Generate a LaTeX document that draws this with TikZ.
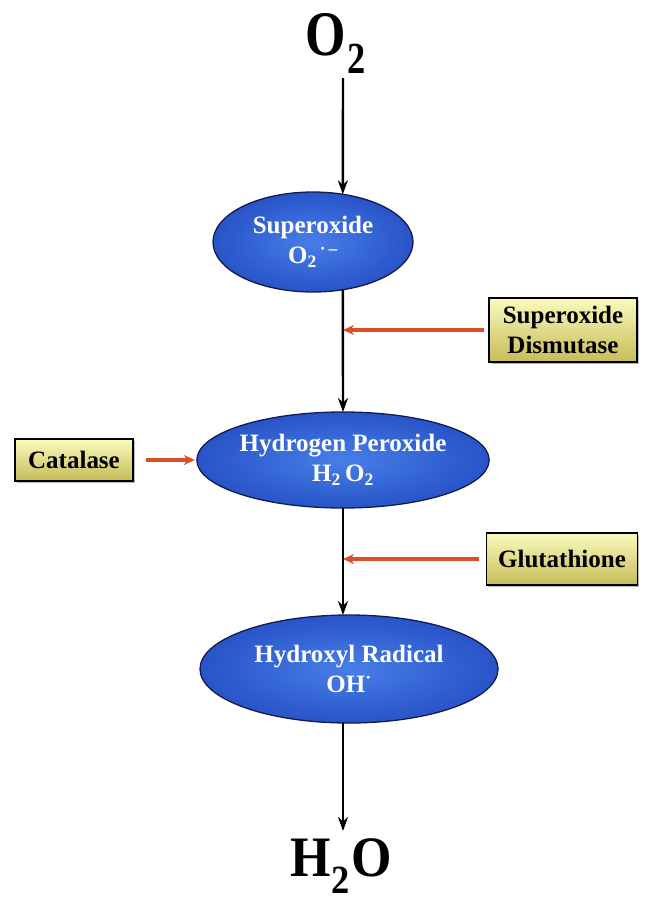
\documentclass[tikz,border=0pt]{standalone}
\usepackage{fontspec}
\setmainfont{Liberation Serif}
\usetikzlibrary{shapes.geometric,shadows,arrows.meta}
\definecolor{ellin}{RGB}{72,126,232}
\definecolor{ellout}{RGB}{40,84,200}
\definecolor{ellline}{RGB}{18,28,80}
\definecolor{boxtop}{RGB}{250,250,190}
\definecolor{boxbot}{RGB}{198,188,88}
\definecolor{redarrow}{RGB}{218,80,40}
\begin{document}
\begin{tikzpicture}[x=1pt,y=-1pt,
  species/.style={ellipse, draw=ellline, line width=1.3pt, inner color=ellin, outer color=ellout,
    text=white, font=\fontsize{25}{30}\selectfont\bfseries, align=center, inner sep=0pt, outer sep=0pt},
  enzyme/.style={rectangle, draw=black, line width=1.4pt, top color=boxtop, bottom color=boxbot,
    font=\fontsize{25}{30}\selectfont\bfseries, align=center, inner sep=0pt,
    drop shadow={shadow xshift=1.5pt, shadow yshift=-1.5pt, fill=black!55}},
  flow/.style={-{Stealth[length=14pt,width=10pt]}, line width=2.4pt, black},
  inhib/.style={-{Stealth[length=11pt,width=10pt]}, line width=3.2pt, redarrow},
  big/.style={font=\fontsize{52}{56}\selectfont\bfseries, inner sep=0pt}]
\useasboundingbox (0,0) rectangle (645,900);
\coordinate (spine) at (343,0);
% species
\node[big, anchor=base west] (o2) at (305,55) {\scalebox{1}[1.22]{O\kern2pt\textsubscript{2}}};
\node[species, minimum width=200pt, minimum height=100pt] (e1) at (313,242)
  {Superoxide\\O\textsubscript{2}\textsuperscript{\,·\,–}};
\node[species, minimum width=292pt, minimum height=96pt] (e2) at (343,460)
  {Hydrogen Peroxide\\H\textsubscript{2}\,O\textsubscript{2}};
\node[species, minimum width=298pt, minimum height=108pt] (e3) at (349,669)
  {Hydroxyl Radical\\OH\textsuperscript{·}};
\node[big, anchor=base west] (h2o) at (290,876) {\scalebox{1}[1.1]{H\kern1pt\textsubscript{2}\kern1pt O}};
% enzymes
\node[enzyme, minimum width=148pt, minimum height=64pt] (sod) at (563,330) {Superoxide\\Dismutase};
\node[enzyme, minimum width=118pt, minimum height=42pt] (cat) at (74,460) {Catalase};
\node[enzyme, minimum width=151pt, minimum height=52pt] (glu) at (562,559) {Glutathione};
% main flow
\draw[flow, shorten <=4pt] (o2.south -| spine) -- (e1.58);
\draw[flow] (e1.-58) -- (e2.north -| spine);
\draw[flow] (e2.south -| spine) -- (spine |- e3.north);
\draw[flow, shorten >=7pt] (spine |- e3.south) -- (spine |- h2o.north);
% enzyme arrows
\draw[inhib, shorten <=4pt] (sod.west) -- (sod.west -| spine);
\draw[inhib, shorten <=12pt, shorten >=2pt] (cat.east) -- (e2.west);
\draw[inhib, shorten <=7pt] (glu.west) -- (glu.west -| spine);
\end{tikzpicture}
\end{document}
